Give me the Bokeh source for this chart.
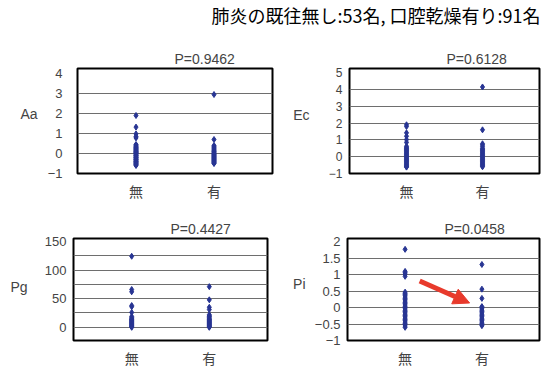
from bokeh.plotting import figure
from bokeh.layouts import column, row
from bokeh.models import FixedTicker, LinearAxis, Arrow, NormalHead, Range1d
from bokeh.core.properties import value
from bokeh.embed import file_html
from bokeh.resources import INLINE

header_text = "肺炎の既往無し:53名, 口腔乾燥有り:91名"
categories = ["無", "有"]
panel_names = ["Aa", "Ec", "Pg", "Pi"]
p_values = ["P=0.9462", "P=0.6128", "P=0.4427", "P=0.0458"]

aa_none = [1.9, 1.32, 0.98, 0.85, 0.78, 0.45, 0.42, 0.38, 0.35, 0.32, 0.3, 0.27, 0.25, 0.22, 0.2,
           0.17, 0.15, 0.12, 0.1, 0.08, 0.06, 0.04, 0.02, 0.0, -0.02, -0.05, -0.08, -0.1, -0.12,
           -0.15, -0.18, -0.2, -0.22, -0.25, -0.28, -0.3, -0.32, -0.35, -0.38, -0.4, -0.42, -0.45,
           -0.47, -0.5, -0.52, -0.55, -0.57, -0.6]
aa_yes = [2.95, 0.7, 0.4, 0.35, 0.3, 0.25, 0.2, 0.15, 0.12, 0.1, 0.05, 0.02, 0.0, -0.03, -0.05,
          -0.08, -0.1, -0.13, -0.15, -0.18, -0.2, -0.23, -0.25, -0.28, -0.3, -0.33, -0.35, -0.38,
          -0.4, -0.43, -0.45, -0.48, -0.5]
ec_none = [1.9, 1.8, 1.42, 1.22, 1.02, 0.85, 0.62, 0.55, 0.5, 0.45, 0.4, 0.35, 0.3, 0.25, 0.2,
           0.15, 0.1, 0.05, 0.0, -0.05, -0.1, -0.15, -0.2, -0.25, -0.3, -0.35, -0.4, -0.45, -0.5,
           -0.55, -0.6, -0.62]
ec_yes = [4.15, 1.6, 0.77, 0.7, 0.6, 0.5, 0.45, 0.4, 0.35, 0.3, 0.25, 0.2, 0.15, 0.1, 0.05, 0.0,
          -0.05, -0.1, -0.15, -0.2, -0.25, -0.3, -0.35, -0.4, -0.45, -0.5, -0.55, -0.6]
pg_none = [124, 66, 62, 38, 36, 26, 19, 17, 15, 14, 13, 12, 11, 10, 9, 8, 7, 6, 5, 4, 3, 2, 1, 0]
pg_yes = [71, 48, 35, 31, 22, 20, 19, 17, 15, 14, 13, 12, 11, 10, 9, 8, 7, 6, 5, 4, 3, 2, 1, 0]
pi_none = [1.77, 1.1, 1.06, 1.02, 0.95, 0.47, 0.43, 0.4, 0.36, 0.32, 0.28, 0.24, 0.2, 0.16, 0.12,
           0.08, 0.04, 0.0, -0.04, -0.08, -0.12, -0.16, -0.2, -0.24, -0.28, -0.32, -0.36, -0.4,
           -0.44, -0.48, -0.52, -0.56, -0.6]
pi_yes = [1.31, 0.56, 0.28, 0.03, 0.0, -0.04, -0.08, -0.12, -0.16, -0.2, -0.24, -0.28, -0.32,
          -0.36, -0.4, -0.44, -0.48, -0.52, -0.55]

# arrow in the Pi panel (data coordinates)
arrow_start = (1.19, 0.81)
arrow_end = (1.84, 0.14)

NUM_FONT = "Liberation Sans"
JP_FONT = "Noto Sans CJK JP"
DOT = "#283593"


def plain(ax):
    ax.axis_line_color = None
    ax.major_tick_line_color = None
    ax.minor_tick_line_color = None


def make_panel(name, ptext, none_vals, yes_vals, yr, axis_ticks, grid_ticks, overrides,
               w, h, bl, br, bt, bb, label_y, label_standoff, tick_size="13px", standoff=1):
    p = figure(width=w, height=h, output_backend="svg", toolbar_location=None,
               x_range=Range1d(0.25, 2.75), y_range=Range1d(*yr),
               min_border_left=bl, min_border_right=br, min_border_top=bt, min_border_bottom=bb)
    p.background_fill_color = "white"
    p.border_fill_color = "white"
    p.outline_line_color = "black"
    p.outline_line_width = 2
    p.title.text = ptext
    p.title.align = "left"
    p.title.offset = 97
    p.title.text_font = NUM_FONT
    p.title.text_font_size = "14px"
    p.title.text_font_style = "normal"
    p.title.standoff = 4

    xs = [1] * len(none_vals) + [2] * len(yes_vals)
    ys = list(none_vals) + list(yes_vals)
    p.scatter(xs, ys, marker="diamond", size=6, color=DOT)

    p.xgrid.visible = False
    p.ygrid.ticker = FixedTicker(ticks=grid_ticks)
    p.ygrid.grid_line_color = "#6e6e6e"
    p.ygrid.grid_line_width = 1

    p.xaxis.ticker = FixedTicker(ticks=[1, 2])
    p.xaxis.major_label_overrides = {1: categories[0], 2: categories[1]}
    p.xaxis.major_label_text_font = JP_FONT
    p.xaxis.major_label_text_font_size = "14px"
    p.xaxis.major_label_standoff = 1

    p.yaxis.ticker = FixedTicker(ticks=axis_ticks)
    if overrides:
        p.yaxis.major_label_overrides = overrides
    p.yaxis.major_label_text_font = NUM_FONT
    p.yaxis.major_label_text_font_size = tick_size
    p.yaxis.major_label_standoff = standoff
    plain(p.xaxis[0])
    plain(p.yaxis[0])

    name_axis = LinearAxis(ticker=FixedTicker(ticks=[label_y]),
                           major_label_overrides={label_y: name},
                           major_label_text_font=NUM_FONT, major_label_text_font_size="14px",
                           major_label_standoff=label_standoff)
    plain(name_axis)
    p.add_layout(name_axis, "left")
    return p


aa = make_panel(panel_names[0], p_values[0], aa_none, aa_yes, (-1, 4.25), [-1, 0, 1, 2, 3, 4],
                [0, 1, 2, 3], {-1: "−1"}, 290, 173, 77, 18, 38, 26, 2.0, 1, standoff=9)
ec = make_panel(panel_names[1], p_values[1], ec_none, ec_yes, (-1, 5.25), [-1, 0, 1, 2, 3, 4, 5],
                [0, 1, 2, 3, 4], {-1: "−1"}, 255, 173, 53, 6, 34, 30, 2.5, 10,
                tick_size="12px", standoff=1)
pg = make_panel(panel_names[2], p_values[2], pg_none, pg_yes, (-23, 155), [0, 50, 100, 150],
                [0, 25, 50, 75, 100, 125], None, 290, 167, 73, 23, 35, 24, 70, 8, standoff=1)
pi = make_panel(panel_names[3], p_values[3], pi_none, pi_yes, (-1, 2.1),
                [-1, -0.5, 0, 0.5, 1, 1.5, 2], [-0.5, 0, 0.5, 1, 1.5],
                {-1: "−1", -0.5: "−0.5", 0: "0", 0.5: "0.5", 1: "1", 1.5: "1.5", 2: "2"},
                255, 167, 55, 6, 34, 27, 0.73, 0, standoff=1)

pi.add_layout(Arrow(end=NormalHead(size=16, fill_color="#e83a2c", line_color="#e83a2c"),
                    x_start=arrow_start[0], y_start=arrow_start[1],
                    x_end=arrow_end[0], y_end=arrow_end[1],
                    line_color="#e83a2c", line_width=5))

hdr = figure(width=545, height=30, output_backend="svg", toolbar_location=None,
             x_range=Range1d(0, 545), y_range=Range1d(0, 30),
             x_axis_location=None, y_axis_location=None, min_border=0)
hdr.outline_line_color = None
hdr.grid.visible = False
hdr.text(x=[540], y=[16], text=[header_text], text_align="right", text_baseline="middle",
         text_font=value(JP_FONT), text_font_size="18px", text_color="black")

layout = column(hdr, row(aa, ec), row(pg, pi))
open("out.html", "w").write(file_html(layout, INLINE))
